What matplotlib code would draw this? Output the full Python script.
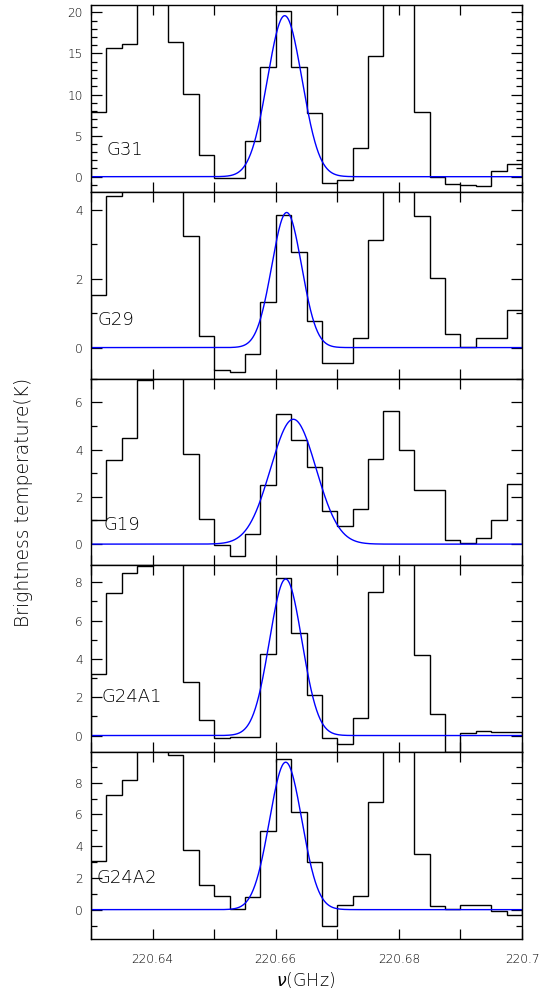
import numpy as np
import matplotlib
matplotlib.use("Agg")
import matplotlib.pyplot as plt
from matplotlib.ticker import MultipleLocator

# ---------------- data ----------------
freq_start = 220.63
chan_width = 0.0025
n_chan = 28

names = ["G31", "G29", "G19", "G24A1", "G24A2"]

# brightness temperature per channel (K); values above the plotted range are estimates
g31 = [7.9, 15.7, 16.1, 25.0, 25.0, 16.4, 10.1, 2.65, -0.12, -0.2, 4.3, 13.4, 20.2, 13.3,
       7.7, -0.8, -0.4, 3.5, 14.65, 25.0, 25.0, 7.9, 0.0, -0.9, -1.0, -1.1, 0.65, 1.6]
g29 = [1.54, 4.39, 6.0, 6.5, 6.5, 6.0, 3.23, 0.34, -0.66, -0.72, -0.19, 1.33, 3.84, 2.76,
       0.77, -0.44, -0.45, 0.29, 3.12, 6.0, 6.0, 3.81, 2.03, 0.39, 0.03, 0.29, 0.27, 1.1]
g19 = [1.04, 3.56, 4.49, 6.95, 8.5, 8.5, 3.83, 1.06, -0.02, -0.49, 0.42, 2.48, 5.51, 4.39,
       3.27, 1.38, 0.77, 1.48, 3.58, 5.62, 3.97, 2.30, 2.27, 0.17, 0.04, 0.24, 1.01, 2.56]
g24a1 = [3.19, 7.42, 8.5, 8.85, 12.0, 12.0, 2.77, 0.82, -0.12, -0.07, -0.07, 4.23, 8.22, 5.35,
         2.11, -0.12, -0.42, 0.91, 7.51, 12.0, 12.0, 4.18, 1.10, -0.84, 0.14, 0.26, 0.16, 0.16]
g24a2 = [3.09, 7.23, 8.19, 11.0, 11.0, 9.75, 3.78, 1.53, 0.84, 0.04, 0.78, 4.98, 9.50, 6.13,
         3.03, -1.01, 0.27, 0.86, 6.79, 11.0, 11.0, 3.49, 0.25, 0.02, 0.29, 0.27, -0.08, -0.32]
spectra = [g31, g29, g19, g24a1, g24a2]

# Gaussian fit parameters: amplitude (K), centre (GHz), FWHM (GHz)
fit_amp = [19.6, 3.92, 5.28, 8.17, 9.29]
fit_center = [220.66146, 220.66178, 220.66286, 220.66162, 220.66162]
fit_fwhm = [0.0066, 0.0057, 0.0087, 0.0062, 0.0062]

ylims = [(-1.84, 20.9), (-0.9, 4.52), (-0.9, 7.0), (-0.87, 8.88), (-1.85, 9.92)]
y_major = [5, 2, 2, 2, 2]
y_minor = [1, 1, 1, 1, 1]
label_pos = [(0.036, 0.176), (0.016, 0.266), (0.030, 0.168), (0.025, 0.247), (0.013, 0.28)]

xlim = (220.63, 220.70)
xtick_vals = [220.64, 220.66, 220.68, 220.70]
xtick_labels = ["220.64", "220.66", "220.68", "220.7"]

# ---------------- plot ----------------
plt.rcParams["font.family"] = ["DejaVu Sans"]
plt.rcParams["font.weight"] = "light"
plt.rcParams["mathtext.fontset"] = "custom"
plt.rcParams["mathtext.it"] = "DejaVu Sans:italic:light"
plt.rcParams["mathtext.rm"] = "DejaVu Sans:light"
fig = plt.figure(figsize=(5.47, 9.91), dpi=100)
left, right = 91 / 547, 522 / 547
top, bottom = 1 - 5 / 991, 1 - 939 / 991
h = (top - bottom) / 5

edges = freq_start + chan_width * np.arange(n_chan + 1)
xf = np.linspace(xlim[0], xlim[1], 1000)

txt_col = "black"
for i in range(5):
    ax = fig.add_axes([left, top - (i + 1) * h, right - left, h])
    ax.stairs(spectra[i], edges, color="black", lw=1.0)
    sig = fit_fwhm[i] / (2 * np.sqrt(2 * np.log(2)))
    ax.plot(xf, fit_amp[i] * np.exp(-0.5 * ((xf - fit_center[i]) / sig) ** 2),
            color="#0000ff", lw=1.0)
    ax.set_xlim(*xlim)
    ax.set_ylim(*ylims[i])
    ax.yaxis.set_major_locator(MultipleLocator(y_major[i]))
    ax.yaxis.set_minor_locator(MultipleLocator(y_minor[i]))
    ax.set_xticks(xtick_vals)
    ax.xaxis.set_minor_locator(MultipleLocator(0.01))
    ax.tick_params(axis="both", which="both", direction="in", top=True, right=True,
                   labelsize=8.7, width=0.9, pad=6, labelcolor=txt_col)
    ax.tick_params(axis="y", which="major", length=8)
    ax.tick_params(axis="y", which="minor", length=4)
    ax.tick_params(axis="x", which="both", length=7.5)
    for s in ax.spines.values():
        s.set_linewidth(1.0)
    ax.text(label_pos[i][0], label_pos[i][1], names[i], transform=ax.transAxes,
            fontsize=13, color=txt_col, ha="left", va="bottom")
    if i < 4:
        ax.set_xticklabels([])
    else:
        ax.set_xticklabels(xtick_labels)
        ax.tick_params(axis="x", pad=10)

fig.text(24 / 547, 1 - 502 / 991, "Brightness temperature(K)", rotation=90,
         ha="center", va="center", fontsize=13.5, color=txt_col)
fig.text(306 / 547, 1 - 980 / 991, r"$\nu$(GHz)", ha="center", va="center",
         fontsize=12.5, color=txt_col)

fig.savefig("out.png", dpi=100)
